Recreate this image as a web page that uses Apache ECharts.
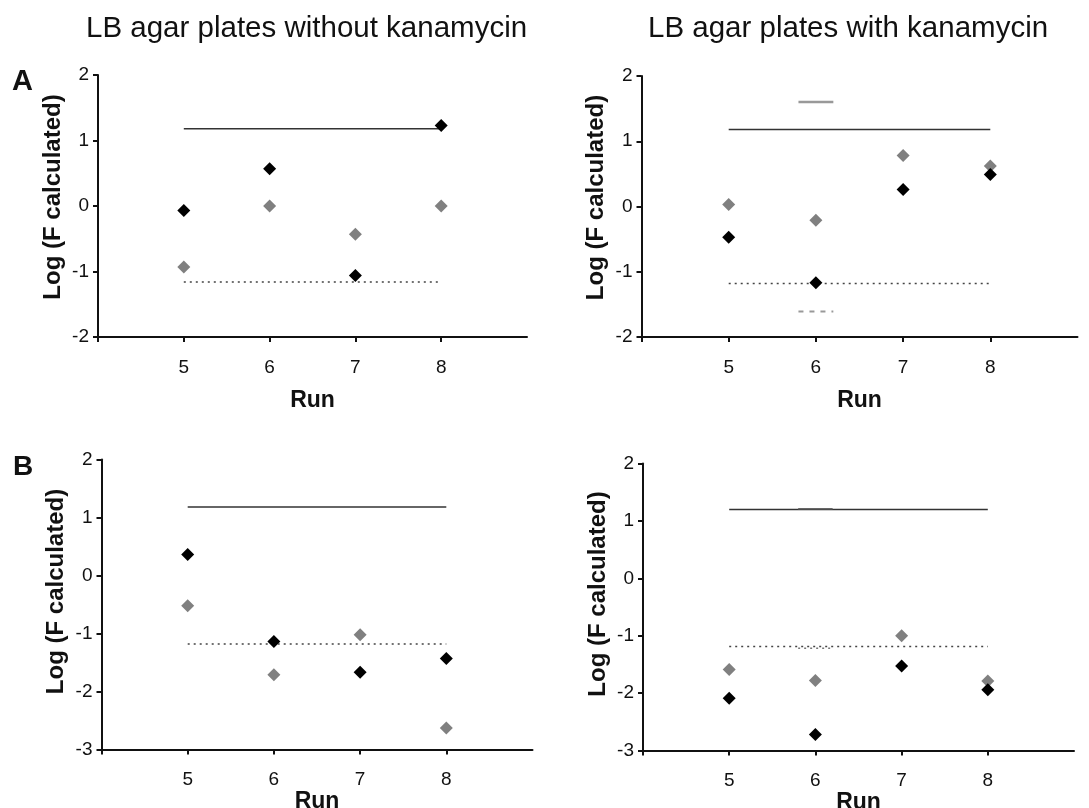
<!DOCTYPE html>
<html>
<head>
<meta charset="utf-8">
<script src="https://cdn.jsdelivr.net/npm/echarts@6/dist/echarts.min.js"></script>
<style>
  html, body { margin: 0; padding: 0; background: #fff; }
  #chart { width: 1089px; height: 808px; }
</style>
</head>
<body>
<div id="chart"></div>
<script>
// runs on the x axis
var runs = [5, 6, 7, 8];
var xTicks = [4, 5, 6, 7, 8];

// Log (F calculated) per run, black and grey diamonds
var aNoKanBlack = [-0.07, 0.57, -1.06, 1.23];
var aNoKanGray = [-0.93, 0.0, -0.43, 0.0];
var aKanBlack = [-0.47, -1.17, 0.26, 0.49];
var aKanGray = [0.03, -0.21, 0.78, 0.62];
var bNoKanBlack = [0.36, -1.14, -1.67, -1.43];
var bNoKanGray = [-0.52, -1.71, -1.02, -2.63];
var bKanBlack = [-2.09, -2.72, -1.53, -1.94];
var bKanGray = [-1.59, -1.78, -1.0, -1.79];

// limit lines per panel (A left, A right, B left, B right)
var upperLimit = [1.18, 1.18, 1.18, 1.20];
var lowerLimit = [-1.16, -1.18, -1.18, -1.19];
var lineSpan = [5, 8];

// short extra lines around run 6
var shortSpan = [5.8, 6.2];
var aKanShortUpper = 1.6;
var aKanShortLower = -1.61;
var bKanShortUpper = 1.21;
var bKanShortLower = -1.22;

var titles = ['LB agar plates without kanamycin', 'LB agar plates with kanamycin'];
var yName = 'Log (F calculated)';
var xName = 'Run';

var font = "'Liberation Sans', Arial, sans-serif";

var grids = [
  { left: 98, top: 75, width: 429, height: 262, outerBoundsMode: 'none' },
  { left: 641.5, top: 76, width: 436, height: 261, outerBoundsMode: 'none' },
  { left: 101.5, top: 459.5, width: 431, height: 290, outerBoundsMode: 'none' },
  { left: 643, top: 463.5, width: 431, height: 287, outerBoundsMode: 'none' }
];
var yMins = [-2, -2, -3, -3];
var runGaps = [52, 52, 34, 34];
var yNameShift = [18, 18, 26, 26];

function pts(vals) {
  return runs.map(function (r, i) { return [r, vals[i]]; });
}
function hline(y, span) {
  return [[span[0], y], [span[1], y]];
}

var xAxes = grids.map(function (g, i) {
  return {
    gridIndex: i,
    type: 'value',
    min: 4,
    max: 9,
    interval: 1,
    name: xName,
    nameLocation: 'middle',
    nameGap: runGaps[i],
    nameTextStyle: { fontFamily: font, fontSize: 23, fontWeight: 'bold', color: '#111' },
    axisLine: { onZero: false, lineStyle: { color: '#111', width: 2 } },
    axisTick: { show: true, length: 5, customValues: xTicks, lineStyle: { color: '#111', width: 2 } },
    axisLabel: { customValues: runs, margin: 21, fontFamily: font, fontSize: 19, color: '#111' },
    splitLine: { show: false }
  };
});

var yAxes = grids.map(function (g, i) {
  return {
    gridIndex: i,
    type: 'value',
    min: yMins[i],
    max: 2,
    interval: 1,
    name: yName,
    nameLocation: 'middle',
    nameGap: 33,
    nameTextStyle: {
      fontFamily: font, fontSize: 24, fontWeight: 'bold', color: '#111',
      padding: [0, 0, 0, yNameShift[i]]
    },
    axisLine: { show: true, onZero: false, lineStyle: { color: '#111', width: 2 } },
    axisTick: { show: true, length: 5, lineStyle: { color: '#111', width: 2 } },
    axisLabel: { margin: 9, fontFamily: font, fontSize: 19, color: '#111' },
    splitLine: { show: false }
  };
});

function limitLines(i) {
  return [
    {
      type: 'line', xAxisIndex: i, yAxisIndex: i, data: hline(upperLimit[i], lineSpan),
      symbol: 'none', lineStyle: { color: '#333', width: 1.5 }, silent: true
    },
    {
      type: 'line', xAxisIndex: i, yAxisIndex: i, data: hline(lowerLimit[i], lineSpan),
      symbol: 'none', lineStyle: { color: '#444', width: 1.5, type: [2, 4] }, silent: true
    }
  ];
}
function diamonds(i, vals, color) {
  return {
    type: 'scatter', xAxisIndex: i, yAxisIndex: i, data: pts(vals),
    symbol: 'diamond', symbolSize: 13, itemStyle: { color: color, opacity: 1 }, z: 5
  };
}

var series = [];
series = series.concat(limitLines(0), limitLines(1), limitLines(2), limitLines(3));
series.push(
  {
    type: 'line', xAxisIndex: 1, yAxisIndex: 1, data: hline(aKanShortUpper, shortSpan),
    symbol: 'none', lineStyle: { color: '#999', width: 2.5 }
  },
  {
    type: 'line', xAxisIndex: 1, yAxisIndex: 1, data: hline(aKanShortLower, shortSpan),
    symbol: 'none', lineStyle: { color: '#999', width: 2, type: [5, 6] }
  },
  {
    type: 'line', xAxisIndex: 3, yAxisIndex: 3, data: hline(bKanShortUpper, shortSpan),
    symbol: 'none', lineStyle: { color: '#666', width: 1.5 }
  },
  {
    type: 'line', xAxisIndex: 3, yAxisIndex: 3, data: hline(bKanShortLower, shortSpan),
    symbol: 'none', lineStyle: { color: '#777', width: 1.5, type: [2, 4] }
  }
);
series.push(
  diamonds(0, aNoKanGray, '#808080'), diamonds(0, aNoKanBlack, '#000'),
  diamonds(1, aKanGray, '#808080'), diamonds(1, aKanBlack, '#000'),
  diamonds(2, bNoKanGray, '#808080'), diamonds(2, bNoKanBlack, '#000'),
  diamonds(3, bKanGray, '#808080'), diamonds(3, bKanBlack, '#000')
);

var chart = echarts.init(document.getElementById('chart'), null, { renderer: 'canvas' });
chart.setOption({
  backgroundColor: '#fff',
  animation: false,
  grid: grids,
  xAxis: xAxes,
  yAxis: yAxes,
  series: series,
  graphic: [
    { type: 'text', left: 86, top: 14, style: { text: titles[0], font: '29.5px ' + font, fill: '#111' } },
    { type: 'text', left: 648, top: 14, style: { text: titles[1], font: '29.5px ' + font, fill: '#111' } },
    { type: 'text', left: 12, top: 67, style: { text: 'A', font: 'bold 29px ' + font, fill: '#111' } },
    { type: 'text', left: 13, top: 453, style: { text: 'B', font: 'bold 28px ' + font, fill: '#111' } }
  ]
});
</script>
</body>
</html>
